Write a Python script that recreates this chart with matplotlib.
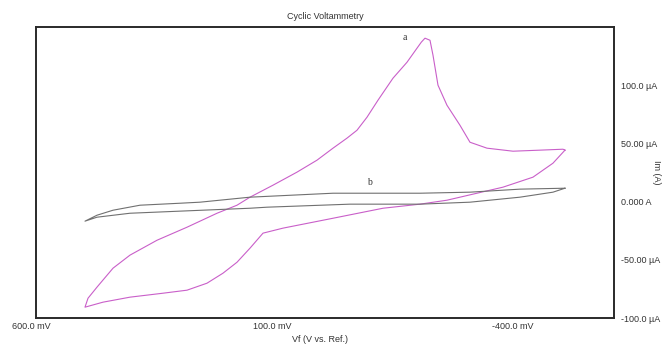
import matplotlib
matplotlib.use("Agg")
import matplotlib.pyplot as plt
from matplotlib.transforms import ScaledTranslation

plt.rcParams.update({'font.family': 'Liberation Sans', 'font.size': 6.5})

# --- data (potential in mV, current in uA) ---
# curve a: closed CV loop
a_mv = [-498.2, -473.3, -431.8, -369.5, -315.5, -253.2, -197.2, -120.4, -16.6, 87.2,
        128.7, 155.7, 182.7, 211.8, 245.0, 286.5, 336.3, 404.9, 460.9, 498.3,
        492.0, 473.4, 440.1, 404.9, 348.8, 286.5, 224.2, 182.7, 155.7, 108.0,
        58.2, 16.6, -16.6, -45.6, -66.4, -87.2, -110.0, -141.1, -170.2, -191.0,
        -200.0, -207.6, -218.0, -224.2, -234.6, -253.2, -280.2, -301.0, -336.3, -390.3,
        -446.3, -494.1, -498.2]
a_ua = [44.2, 33.0, 21.0, 12.4, 7.2, 1.2, -2.2, -5.7, -14.3, -22.8,
        -27.1, -40.0, -52.1, -61.5, -70.1, -76.1, -78.7, -82.1, -86.4, -90.7,
        -83.0, -73.5, -57.2, -46.0, -33.2, -22.0, -10.0, -3.1, 3.8, 14.1,
        25.3, 35.6, 45.9, 54.5, 61.3, 72.5, 87.1, 106.0, 119.7, 131.8,
        137.0, 140.4, 138.6, 125.8, 100.0, 82.8, 65.6, 51.0, 45.9, 43.3,
        44.2, 45.0, 44.2]

# curve b: blank, thin loop
b_mv = [-498.2, -404.8, -301.0, -197.2, -16.6, 155.7, 259.5, 301.1, 384.1, 440.1,
        473.4, 498.3, 473.4, 404.9, 301.1, 155.7, 120.4, -51.9, -197.2, -301.0,
        -404.8, -473.3, -498.2]
b_ua = [11.5, 10.7, 8.1, 7.2, 7.2, 3.8, -0.5, -1.4, -3.1, -7.4,
        -11.7, -16.8, -13.4, -10.0, -8.2, -5.7, -4.8, -2.2, -2.2, -0.5,
        3.8, 8.1, 11.5]

x_ticks = [600, 100, -400]
x_tick_labels = ['600.0 mV', '100.0 mV', '-400.0 mV']
y_ticks = [-100, -50, 0, 50, 100]
y_tick_labels = ['-100.0 µA', '-50.00 µA', '0.000 A', '50.00 µA', '100.0 µA']

fig = plt.figure(figsize=(6.64, 3.45), dpi=100)
ax = fig.add_axes([36 / 664, 1 - 318 / 345, 578 / 664, 291 / 345])

ax.plot(a_mv, a_ua, color='#c95fc9', linewidth=0.8)
ax.plot(b_mv, b_ua, color='#707070', linewidth=0.8)

ax.text(-170, 141, 'a', family='Liberation Serif', fontsize=7, color='#333333',
        ha='right', va='center')
ax.text(-93, 16, 'b', family='Liberation Serif', fontsize=7, color='#333333',
        ha='center', va='center')

ax.set_xlim(600, -600)
ax.set_ylim(-100, 150)

ax.set_xticks(x_ticks)
ax.set_xticklabels(x_tick_labels)
ax.set_yticks(y_ticks)
ax.set_yticklabels(y_tick_labels)
ax.yaxis.tick_right()
ax.tick_params(axis='both', length=0, colors='#333333')
ax.tick_params(axis='x', pad=3)
ax.tick_params(axis='y', pad=5)

# x tick labels sit a little left of their ticks in the original
shift = ScaledTranslation(-5 / 100, 0, fig.dpi_scale_trans)
for lbl in ax.get_xticklabels():
    lbl.set_transform(lbl.get_transform() + shift)

for s in ax.spines.values():
    s.set_linewidth(1.4)
    s.set_color('#2a2a2a')

ax.set_title('Cyclic Voltammetry', fontsize=6.5, color='#333333', pad=6)
fig.text(320 / 664, 1 - 340 / 345, 'Vf (V vs. Ref.)', fontsize=6.5, color='#333333',
         ha='center', va='center')
fig.text(656 / 664, 1 - 172 / 345, 'Im (A)', fontsize=6.5, color='#333333',
         rotation=270, ha='center', va='center')

fig.savefig('out.png', dpi=100)
